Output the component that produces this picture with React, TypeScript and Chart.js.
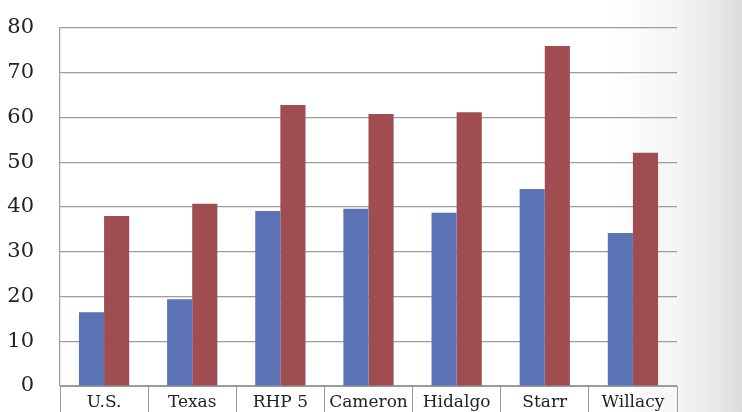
import React, { useEffect, useRef } from "react";
import { Chart, registerables } from "chart.js";

Chart.register(...registerables);

const categories = ["U.S.", "Texas", "RHP 5", "Cameron", "Hidalgo", "Starr", "Willacy"];
const seriesA = [16.5, 19.4, 39.1, 39.6, 38.7, 44.0, 34.2];
const seriesB = [38.0, 40.7, 62.8, 60.8, 61.2, 76.0, 52.1];
const yTicks = [0, 10, 20, 30, 40, 50, 60, 70, 80];

export default function App() {
  const canvasRef = useRef<HTMLCanvasElement>(null);

  useEffect(() => {
    if (!canvasRef.current) return;
    const chart = new Chart(canvasRef.current, {
      type: "bar",
      data: {
        labels: categories,
        datasets: [
          {
            label: "Series 1",
            data: seriesA,
            backgroundColor: "#5b72b4",
            barPercentage: 1,
            categoryPercentage: 0.57,
          },
          {
            label: "Series 2",
            data: seriesB,
            backgroundColor: "#9f4d50",
            barPercentage: 1,
            categoryPercentage: 0.57,
          },
        ],
      },
      options: {
        animation: false,
        responsive: false,
        maintainAspectRatio: false,
        layout: { padding: { top: 28, right: 65, left: 0, bottom: 0 } },
        plugins: { legend: { display: false }, tooltip: { enabled: false } },
        scales: {
          x: {
            grid: {
              offset: true,
              drawOnChartArea: false,
              drawTicks: true,
              tickLength: 26,
              color: "#9a9a9a",
              lineWidth: 1,
            },
            border: { display: true, color: "#9a9a9a", width: 1 },
            ticks: {
              color: "#222",
              font: { family: "'DejaVu Serif', serif", size: 17 },
              padding: -20,
              maxRotation: 0,
              autoSkip: false,
            },
            afterFit: (scale: any) => {
              scale.height = 26;
              scale.paddingLeft = 0;
              scale.paddingRight = 0;
            },
          },
          y: {
            min: 0,
            max: 80,
            afterBuildTicks: (scale: any) => {
              scale.ticks = yTicks.map((v) => ({ value: v }));
            },
            grid: { drawTicks: false, color: "#9c9c9c", lineWidth: 1.2 },
            border: { display: true, color: "#9c9c9c", width: 1.2 },
            ticks: {
              color: "#222",
              font: { family: "'DejaVu Serif', serif", size: 21 },
              padding: 26,
            },
            afterFit: (scale: any) => {
              scale.width = 60;
              scale.paddingTop = 0;
              scale.paddingBottom = 0;
            },
          },
        },
      },
    });
    return () => chart.destroy();
  }, []);

  return (
    <div
      style={{
        position: "fixed",
        left: 0,
        top: 0,
        width: 742,
        height: 412,
        background:
          "linear-gradient(to right, #ffffff 0%, #ffffff 82%, #f5f5f5 91%, #e6e6e6 97%, #dcdcdc 100%)",
      }}
    >
      <canvas ref={canvasRef} width={742} height={412} />
    </div>
  );
}
